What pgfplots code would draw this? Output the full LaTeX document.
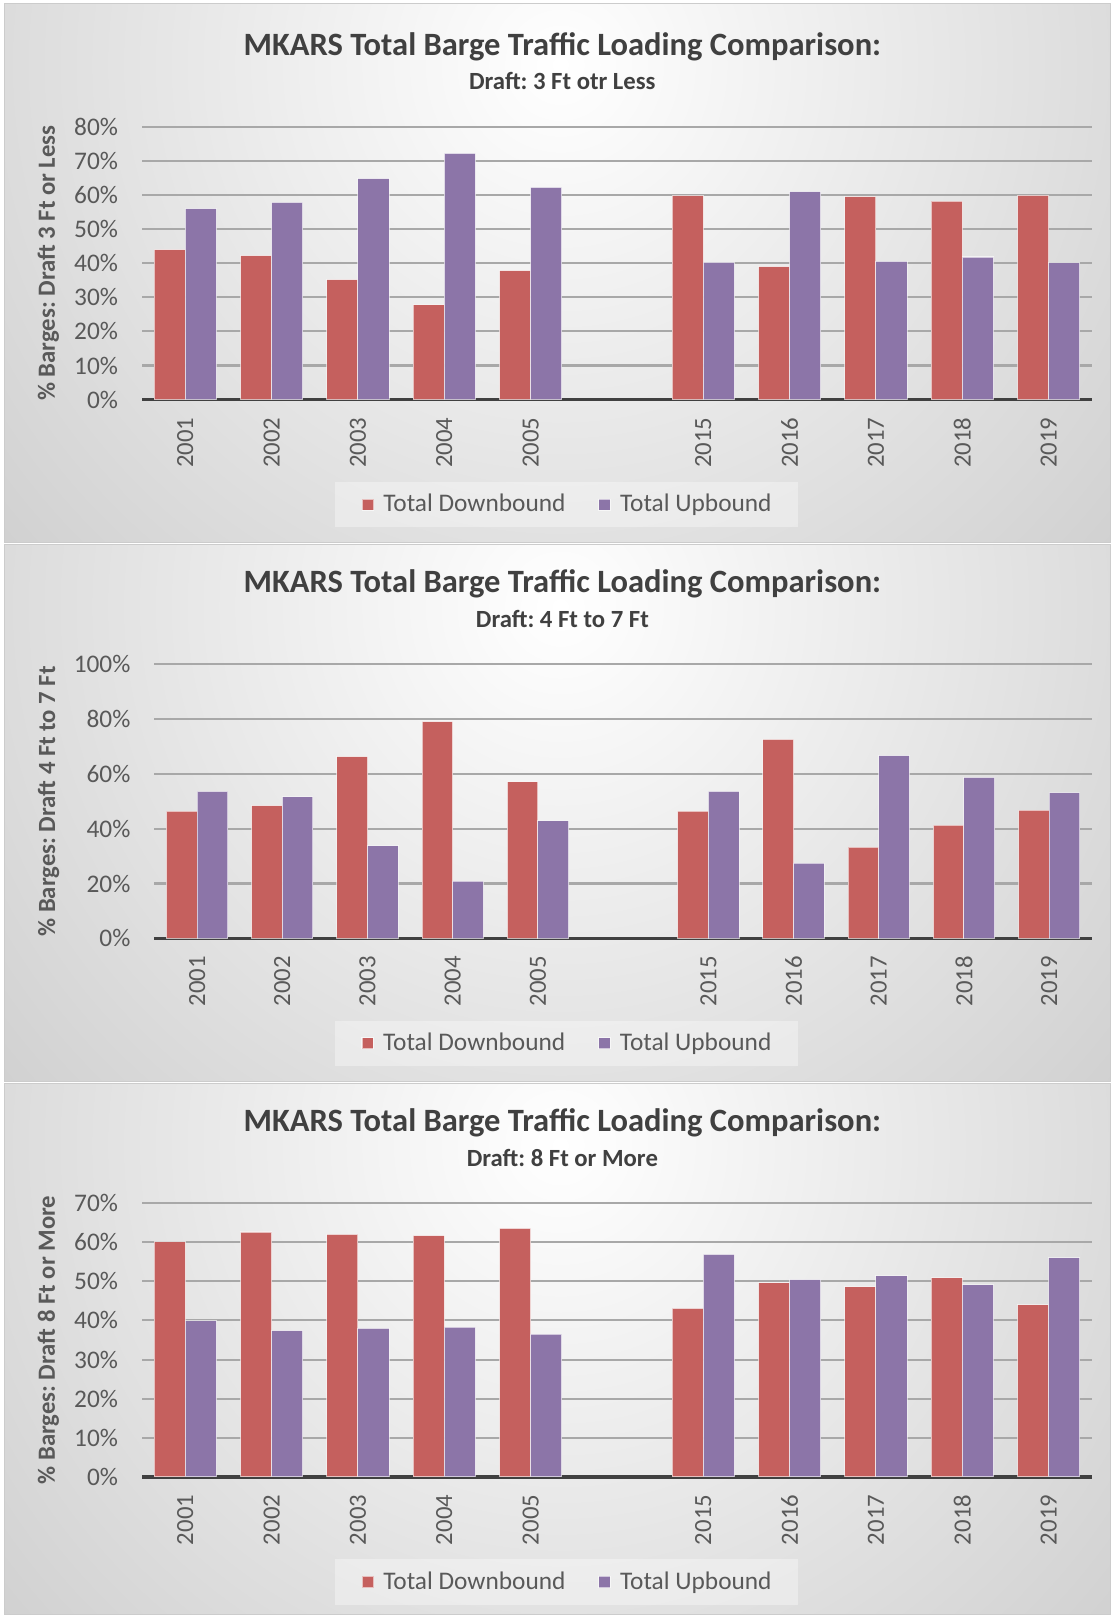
\documentclass[border=0pt]{standalone}
\usepackage{fontspec}
\setmainfont{Carlito}
\usepackage{pgfplots}
\usepackage{pgfplotstable}
\pgfplotsset{compat=1.18}
\definecolor{cdown}{RGB}{197,96,94}
\definecolor{cup}{RGB}{140,117,168}
\definecolor{ctitle}{RGB}{64,64,64}
\definecolor{ctick}{RGB}{89,89,89}
\frenchspacing

% x: slot (2001-2005 at 0..4, 2015-2019 at 6..10), down/up in percent
\pgfplotstableread{
x down up
0 44.0 56.0
1 42.2 57.8
2 35.2 64.8
3 27.8 72.2
4 37.8 62.2
6 59.8 40.2
7 39.0 61.0
8 59.5 40.5
9 58.2 41.8
10 59.9 40.1
}\draftlow
\pgfplotstableread{
x down up
0 46.4 53.6
1 48.4 51.6
2 66.3 33.7
3 79.1 20.9
4 57.1 42.9
6 46.4 53.6
7 72.6 27.4
8 33.3 66.7
9 41.3 58.7
10 46.8 53.2
}\draftmid
\pgfplotstableread{
x down up
0 60.1 39.9
1 62.6 37.4
2 62.0 38.0
3 61.7 38.3
4 63.5 36.5
6 43.1 56.9
7 49.6 50.4
8 48.6 51.4
9 50.9 49.1
10 44.0 56.0
}\drafthigh

\pgfplotsset{panel/.style={
  scale only axis, height=133pt,
  xmin=-0.5, xmax=10.5, ymin=0,
  ybar=0pt, bar width=0.36,
  xtick={0,1,2,3,4,6,7,8,9,10},
  xticklabels={2001,2002,2003,2004,2005,2015,2016,2017,2018,2019},
  xticklabel style={rotate=90, anchor=east, inner sep=0pt, xshift=-8.5pt,
    font=\fontsize{12}{14}\selectfont, text=ctick},
  yticklabel style={anchor=east, inner sep=0pt, xshift=-11.5pt,
    font=\fontsize{12.3}{14}\selectfont, text=ctick},
  yticklabel={\pgfmathprintnumber{\tick}\%},
  /pgf/number format/assume math mode=true,
  major tick length=0pt,
  ymajorgrids, grid style={line width=1pt, draw=black!34},
  axis x line*=bottom, axis y line*=left,
  x axis line style={-, line width=1.5pt, draw=black!75},
  y axis line style={draw=none},
  ylabel style={font=\bfseries\fontsize{12}{14}\selectfont, text=ctick, anchor=center},
  legend columns=2,
  legend style={draw=none, fill=white, fill opacity=0.35, text opacity=1,
    font=\fontsize{12.3}{14}\selectfont, text=ctick, anchor=center,
    inner xsep=11pt, inner ysep=4pt,
    /tikz/every even column/.append style={column sep=12pt}},
  legend image code/.code={\path (0pt,0pt) (10pt,0pt);
    \fill[##1, fill opacity=1] (2pt,-2.75pt) rectangle (7.5pt,2.75pt);},
  every axis plot/.append style={draw=white, draw opacity=0.6, line width=0.5pt},
}}

\newcommand{\panelbg}[2]{%
  \begin{scope}
    \clip (2pt,#1) rectangle (539pt,#2);
    \shade[inner color=white, outer color=black!29] (272pt,#2-30pt) circle (570pt);
  \end{scope}
  \draw[black!20, line width=0.5pt] (2pt,#1) rectangle (539pt,#2);
}

\begin{document}
\begin{tikzpicture}
\useasboundingbox (0pt,0pt) rectangle (539pt,784pt);
\panelbg{520.5pt}{782.5pt}
\panelbg{259pt}{519.5pt}
\panelbg{0pt}{258pt}

% panel 1
\node[font=\bfseries\fontsize{15.8}{18}\selectfont, text=ctitle] at (273pt,761.5pt) {MKARS Total Barge Traffic Loading Comparison:};
\node[font=\bfseries\fontsize{12}{14}\selectfont, text=ctitle] at (273pt,744.5pt) {Draft: 3 Ft otr Less};
\begin{axis}[panel, at={(69pt,590pt)}, anchor=south west, width=461pt, height=132.5pt,
  ymax=80, ytick={0,10,...,80},
  ylabel={\% Barges: Draft 3 Ft or Less},
  ylabel style={at={(axis description cs:-0.0987,0.5)}},
  legend style={at={(0.447,-0.385)}}]
  \addplot[fill=cdown] table[x=x,y=down] {\draftlow};
  \addplot[fill=cup] table[x=x,y=up] {\draftlow};
  \legend{Total Downbound,Total Upbound}
\end{axis}

% panel 2
\node[font=\bfseries\fontsize{15.8}{18}\selectfont, text=ctitle] at (273pt,500.5pt) {MKARS Total Barge Traffic Loading Comparison:};
\node[font=\bfseries\fontsize{12}{14}\selectfont, text=ctitle] at (273pt,483.5pt) {Draft: 4 Ft to 7 Ft};
\begin{axis}[panel, at={(75pt,328.5pt)}, anchor=south west, width=455pt,
  ymax=100, ytick={0,20,...,100},
  ylabel={\% Barges: Draft 4 Ft to 7 Ft},
  ylabel style={at={(axis description cs:-0.113,0.5)}},
  legend style={at={(0.4395,-0.383)}}]
  \addplot[fill=cdown] table[x=x,y=down] {\draftmid};
  \addplot[fill=cup] table[x=x,y=up] {\draftmid};
  \legend{Total Downbound,Total Upbound}
\end{axis}

% panel 3
\node[font=\bfseries\fontsize{15.8}{18}\selectfont, text=ctitle] at (273pt,239pt) {MKARS Total Barge Traffic Loading Comparison:};
\node[font=\bfseries\fontsize{12}{14}\selectfont, text=ctitle] at (273pt,222pt) {Draft: 8 Ft or More};
\begin{axis}[panel, at={(69pt,67pt)}, anchor=south west, width=461pt,
  ymax=70, ytick={0,10,...,70},
  ylabel={\% Barges: Draft 8 Ft or More},
  ylabel style={at={(axis description cs:-0.0987,0.5)}},
  legend style={at={(0.447,-0.383)}}]
  \addplot[fill=cdown] table[x=x,y=down] {\drafthigh};
  \addplot[fill=cup] table[x=x,y=up] {\drafthigh};
  \legend{Total Downbound,Total Upbound}
\end{axis}
\end{tikzpicture}
\end{document}
